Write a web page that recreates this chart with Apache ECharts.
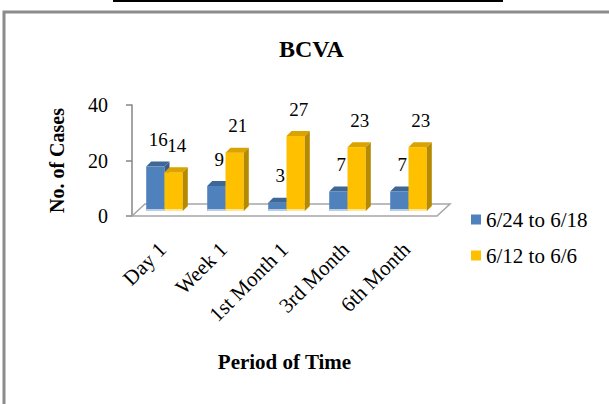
<!DOCTYPE html>
<html>
<head>
<meta charset="utf-8">
<script src="https://cdn.jsdelivr.net/npm/echarts@6/dist/echarts.min.js"></script>
<style>
  html, body { margin: 0; padding: 0; background: #fff; }
  #bcvaChart { width: 609px; height: 404px; }
</style>
</head>
<body>
<div id="bcvaChart"></div>
<script>
// data
const periods = ['Day 1', 'Week 1', '1st Month 1', '3rd Month', '6th Month']
const group1 = [16, 9, 3, 7, 7]      // 6/24 to 6/18
const group2 = [14, 21, 27, 23, 23]  // 6/12 to 6/6
const seriesNames = ['6/24 to 6/18', '6/12 to 6/6']
const yMax = 40
const yStep = 20

const FONT = 'Liberation Serif'
// fake 3d look, like the old excel chart
const SHIFT = 2    // bars a bit right of category centre
const LIFT = 5     // bars stand in the middle of the floor depth
const DEPTH = 5    // depth of one bar
const FLOOR_DX = 13
const FLOOR_DY = 12

const palette = [
  { front: '#4f81bd', top: '#3d6796', side: '#385d8a', foot: '#b9cde5' },
  { front: '#ffc000', top: '#d9a300', side: '#b68a00', foot: '#ffe699' }
]

const makeBars = (sIdx) => (params, api) => {
  const idx = api.value(0)
  const val = api.value(1)
  const w = api.size([1, 0])[0] * 0.3
  const base = api.coord([idx, 0])
  const top = api.coord([idx, val])
  const c = palette[sIdx]
  const x0 = base[0] + SHIFT + (sIdx === 0 ? -w : 0)
  const x1 = x0 + w
  const yb = base[1] - LIFT
  const yt = top[1] - LIFT
  return {
    type: 'group',
    children: [
      { type: 'rect', shape: { x: x0, y: yt, width: w, height: yb - yt }, style: { fill: c.front } },
      { type: 'rect', shape: { x: x0, y: yb - 2, width: w, height: 2 }, style: { fill: c.foot } },
      { type: 'polygon', shape: { points: [[x0, yt], [x1, yt], [x1 + DEPTH, yt - DEPTH], [x0 + DEPTH, yt - DEPTH]] }, style: { fill: c.top } },
      { type: 'polygon', shape: { points: [[x1, yt], [x1 + DEPTH, yt - DEPTH], [x1 + DEPTH, yb - DEPTH], [x1, yb]] }, style: { fill: c.side } },
      {
        type: 'text',
        style: {
          x: x0 + w / 2 + 3, y: yt - 27, text: String(val),
          fontFamily: FONT, fontSize: 19, fill: '#000',
          align: 'center', verticalAlign: 'middle'
        }
      }
    ]
  }
}

// floor of the 3d plot
const renderFloor = (params) => {
  const cs = params.coordSys
  const gx = cs.x, gy = cs.y + cs.height, gw = cs.width
  return {
    type: 'polygon',
    shape: { points: [[gx, gy], [gx + gw, gy], [gx + gw + FLOOR_DX, gy - FLOOR_DY], [gx + FLOOR_DX, gy - FLOOR_DY]] },
    style: { fill: '#fff', stroke: '#a6a6a6', lineWidth: 1.5 }
  }
}

const chart = echarts.init(document.getElementById('bcvaChart'), null, { renderer: 'svg' })

const option = {
  animation: false,
  backgroundColor: '#fff',
  title: {
    text: 'BCVA',
    left: 274,
    top: 32,
    textStyle: { fontFamily: FONT, fontSize: 24, fontWeight: 'bold', color: '#000' }
  },
  legend: {
    data: seriesNames,
    orient: 'vertical',
    left: 466,
    top: 204,
    itemWidth: 10,
    itemHeight: 10,
    itemGap: 15,
    icon: 'rect',
    textStyle: { fontFamily: FONT, fontSize: 21, color: '#000' }
  },
  graphic: [
    { type: 'line', shape: { x1: 113, y1: 1, x2: 503, y2: 1 }, style: { stroke: '#000', lineWidth: 2 } },
    { type: 'rect', shape: { x: 4, y: 12, width: 700, height: 500 }, style: { fill: 'none', stroke: '#8c8c8c', lineWidth: 3 } }
  ],
  grid: { left: 132, right: 172, top: 105, bottom: 188 },
  xAxis: {
    type: 'category',
    data: periods,
    name: 'Period of Time',
    nameLocation: 'middle',
    nameGap: 135,
    nameTextStyle: { fontFamily: FONT, fontSize: 21, fontWeight: 'bold', color: '#000' },
    axisLine: { show: false },
    axisTick: { show: false },
    axisLabel: { rotate: 45, margin: 30, interval: 0, fontFamily: FONT, fontSize: 21, color: '#000' }
  },
  yAxis: {
    type: 'value',
    min: 0,
    max: yMax,
    interval: yStep,
    name: 'No. of Cases',
    nameLocation: 'middle',
    nameRotate: 90,
    nameGap: 65,
    nameTextStyle: { fontFamily: FONT, fontSize: 20, fontWeight: 'bold', color: '#000' },
    axisLine: { show: true, lineStyle: { color: '#868686', width: 1.5 } },
    axisTick: { show: true, length: 6, lineStyle: { color: '#868686', width: 1.5 } },
    splitLine: { show: false },
    axisLabel: { margin: 24, fontFamily: FONT, fontSize: 20, color: '#000' }
  },
  series: [
    { type: 'custom', name: 'floor', renderItem: renderFloor, data: [0], silent: true },
    {
      type: 'custom', name: seriesNames[0], renderItem: makeBars(0),
      itemStyle: { color: palette[0].front },
      data: group1.map((v, i) => [i, v])
    },
    {
      type: 'custom', name: seriesNames[1], renderItem: makeBars(1),
      itemStyle: { color: palette[1].front },
      data: group2.map((v, i) => [i, v])
    }
  ]
}

chart.setOption(option)
</script>
</body>
</html>
